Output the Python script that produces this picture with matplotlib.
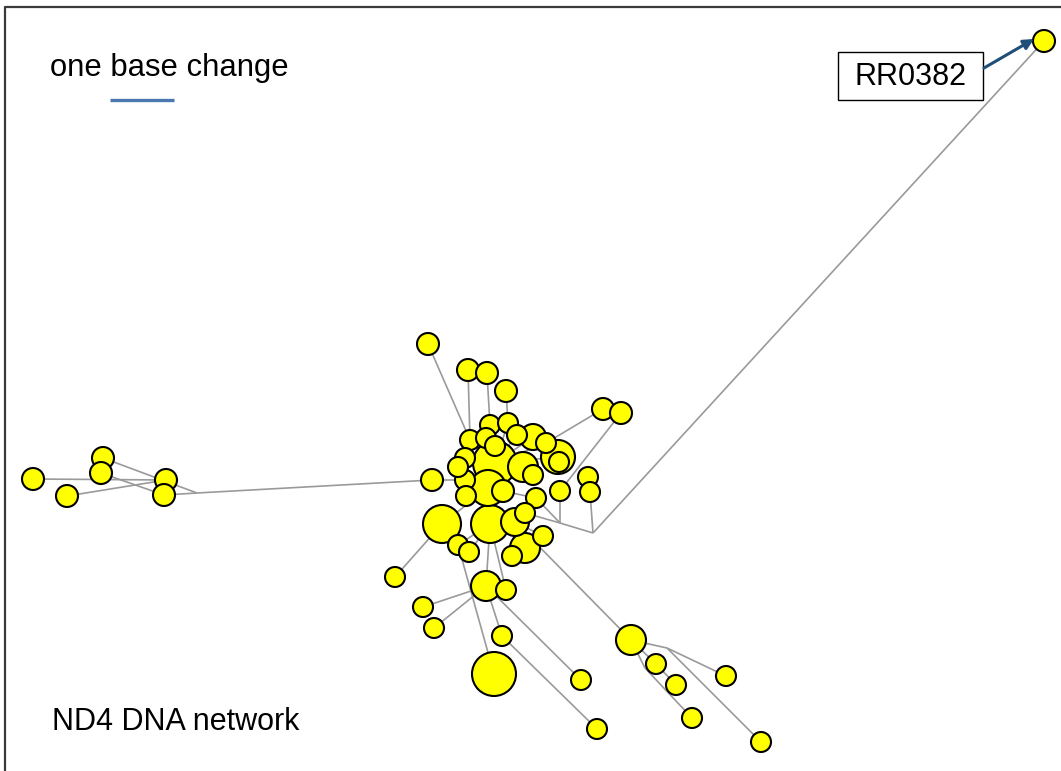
import matplotlib
matplotlib.use("Agg")
import matplotlib.pyplot as plt
from matplotlib.patches import Circle, Rectangle
from matplotlib.collections import LineCollection

# haplotype nodes: pixel-space layout (x, y) and drawn radius; r = 0 -> median vertex
node_x = [33, 67, 103, 101, 166, 164, 197, 432, 428, 468,
          487, 506, 603, 621, 495, 488, 490, 508, 517, 533,
          546, 558, 559, 470, 486, 495, 465, 523, 465, 466,
          503, 536, 560, 588, 590, 442, 490, 515, 525, 543,
          458, 469, 512, 525, 395, 486, 506, 423, 434, 502,
          494, 581, 597, 631, 656, 676, 692, 726, 761, 1044,
          593, 560, 667, 645, 458, 533]
node_y = [479, 496, 458, 473, 480, 495, 493, 480, 344, 370,
          373, 391, 409, 413, 463, 488, 425, 423, 435, 437,
          443, 457, 462, 440, 438, 446, 458, 467, 480, 496,
          491, 498, 491, 477, 492, 524, 524, 522, 513, 536,
          545, 552, 556, 548, 577, 586, 590, 607, 628, 636,
          674, 680, 729, 640, 664, 685, 718, 676, 742, 41,
          533, 523, 648, 668, 467, 475]
node_r = [11, 11, 11, 11, 11, 11, 0, 11, 11, 11,
          11, 11, 11, 11, 22, 18, 10, 10, 10, 13,
          10, 17, 10, 10, 10, 10, 10, 15, 10, 10,
          11, 10, 10, 10, 10, 19, 19, 14, 10, 10,
          10, 10, 10, 15, 10, 15, 10, 10, 10, 10,
          22, 10, 10, 15, 10, 10, 10, 10, 10, 11,
          0, 0, 0, 0, 10, 10]

# one-step mutational links between nodes
edges = [(0, 4), (1, 4), (2, 6), (3, 5), (5, 6), (6, 7), (7, 28),
         (8, 23), (9, 23), (10, 16), (11, 17), (12, 20), (13, 32),
         (14, 15), (14, 16), (14, 17), (14, 18), (14, 19), (14, 20),
         (14, 21), (14, 23), (14, 24), (14, 25), (14, 26), (14, 27),
         (14, 64), (14, 65), (21, 22), (15, 28), (15, 29), (15, 30),
         (15, 31), (15, 35), (15, 36), (36, 37), (37, 38), (37, 39),
         (36, 40), (36, 41), (37, 42), (37, 43),
         (31, 61), (38, 61), (61, 32), (61, 60), (60, 34), (60, 59),
         (44, 35), (45, 36), (46, 36), (47, 45), (48, 45), (49, 45),
         (50, 40), (51, 45), (52, 49), (53, 37), (53, 62), (62, 57),
         (62, 58), (53, 63), (63, 56), (53, 54), (54, 55)]

label_node = 59
label_text = "RR0382"

EDGE_GREY = "#9a9a9a"
NODE_FILL = "#ffff00"
SCALE_BLUE = "#4a78b0"
ARROW_BLUE = "#1f4e79"

W, H = 1061, 771
fig = plt.figure(figsize=(W / 100, H / 100), dpi=100)
ax = fig.add_axes([0, 0, 1, 1])
ax.set_xlim(0, W)
ax.set_ylim(H, 0)
ax.axis("off")
fig.patch.set_facecolor("white")

plt.rcParams["font.family"] = ["Liberation Sans", "DejaVu Sans"]

# links
segs = [[(node_x[a], node_y[a]), (node_x[b], node_y[b])] for a, b in edges]
ax.add_collection(LineCollection(segs, colors=EDGE_GREY, linewidths=1.2, zorder=1))

# nodes, biggest first so small ones sit on top
order = sorted(range(len(node_x)), key=lambda i: -node_r[i])
for k, i in enumerate(order):
    if node_r[i] == 0:
        continue
    ax.add_patch(Circle((node_x[i], node_y[i]), node_r[i], facecolor=NODE_FILL,
                        edgecolor="black", linewidth=1.5, zorder=2 + k * 0.01))

# frame (left and top only)
ax.plot([5, 5, W], [H, 7, 7], color="#3a3a3a", linewidth=1.6, zorder=5,
        solid_capstyle="butt")

# scale bar
ax.text(169, 68, "one base change", ha="center", va="center", fontsize=22.3, color="black")
ax.plot([110, 174], [100, 100], color=SCALE_BLUE, linewidth=2.4, solid_capstyle="butt")

ax.text(52, 722, "ND4 DNA network", ha="left", va="center", fontsize=22, color="black")

# label for the outlying haplotype
ax.add_patch(Rectangle((838, 52), 145, 48, facecolor="white", edgecolor="black",
                       linewidth=1.0, zorder=6))
ax.text(910.5, 77, label_text, ha="center", va="center", fontsize=22, zorder=7)
lx, ly = node_x[label_node], node_y[label_node]
ax.annotate("", xy=(lx - 10, ly - 2), xytext=(984, 68),
            arrowprops=dict(arrowstyle="-|>,head_length=0.6,head_width=0.3",
                            color=ARROW_BLUE, lw=2.2, shrinkA=0, shrinkB=0),
            zorder=7)

fig.savefig("out.png", dpi=100, facecolor="white")
